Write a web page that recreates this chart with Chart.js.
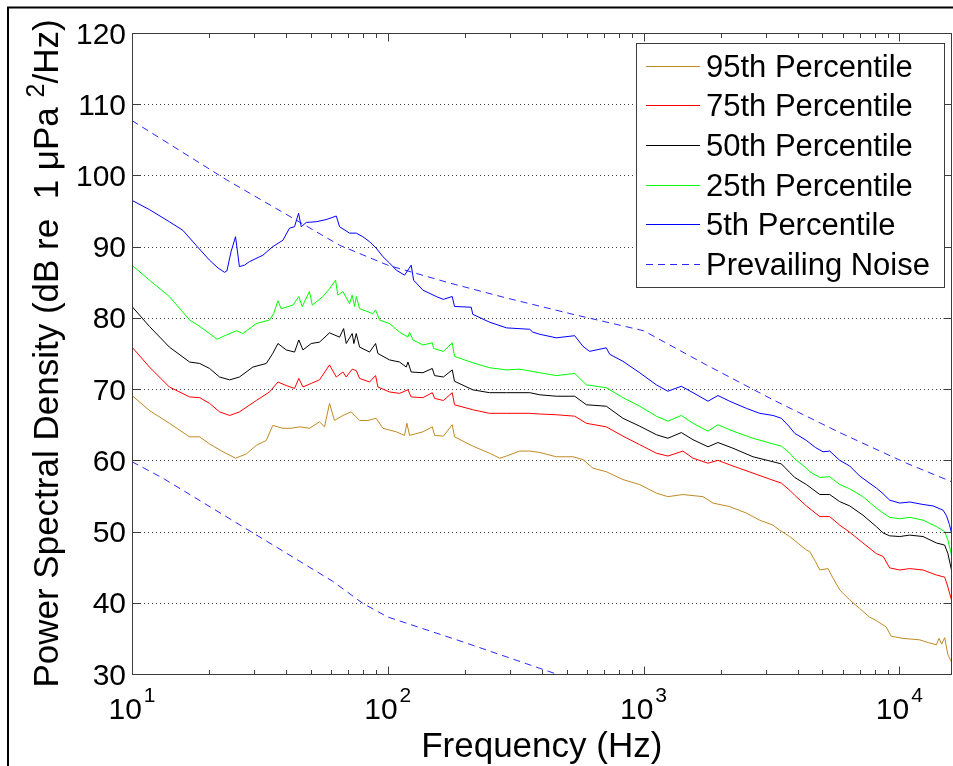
<!DOCTYPE html>
<html>
<head>
<meta charset="utf-8">
<script src="https://cdn.jsdelivr.net/npm/chart.js@4.4.1/dist/chart.umd.min.js"></script>
<style>
html,body{margin:0;padding:0;background:#fff;}
canvas{display:block;}
</style>
</head>
<body>
<canvas id="c" width="953" height="766"></canvas>
<script>
// ---------------- data ----------------
const seriesLabels = ['95th Percentile', '75th Percentile', '50th Percentile', '25th Percentile', '5th Percentile', 'Prevailing Noise'];

const freq95 = [10.0, 11.7, 14.0, 16.8, 18.4, 20.1, 22.7, 25.4, 28.0, 30.6, 33.5, 35.5, 38.9, 41.9, 45.2, 49.4, 54.1, 56.6, 59.2, 61.9, 66.8, 71.9, 77.6, 83.6, 90.1, 95.7, 108.0, 116.3, 118.8, 121.7, 137.2, 149.3, 152.4, 165, 178.7, 182.4, 215, 250, 274, 291, 328, 359, 393, 456, 530, 580, 634, 715, 831, 966, 1122, 1245, 1426, 1708, 1869, 2172, 2523, 2845, 3208, 3405, 3729, 4333, 4465, 4700, 4890, 5265, 5500, 5850, 6400, 7000, 7640, 8130, 8890, 9300, 10340, 12000, 13000, 13960, 14300, 14650, 15050, 15490, 16000];
const db95 = [69.1, 67.0, 65.2, 63.3, 63.3, 62.3, 61.2, 60.3, 60.9, 62.1, 62.8, 64.9, 64.5, 64.5, 64.7, 64.5, 65.4, 64.7, 68.0, 65.6, 66.3, 66.8, 65.6, 65.6, 65.9, 64.5, 64.0, 63.5, 65.2, 63.5, 64.0, 64.7, 63.5, 63.4, 65.0, 63.3, 62.0, 61.0, 60.3, 60.6, 61.3, 61.3, 61.1, 60.5, 60.5, 60.1, 58.9, 58.4, 57.3, 56.6, 55.4, 54.9, 55.2, 54.9, 54.0, 53.5, 52.6, 51.6, 50.9, 50.2, 49.3, 47.4, 47.2, 45.8, 44.6, 44.8, 43.5, 41.8, 40.4, 39.2, 38.0, 37.5, 36.6, 35.3, 35.0, 34.8, 34.4, 34.1, 35.0, 34.2, 35.1, 32.7, 31.7];

const freq75 = [10.0, 11.7, 14.0, 16.8, 18.4, 20.1, 22.0, 24.1, 26.3, 30.6, 34.5, 37.2, 40.1, 43.2, 44.9, 46.6, 50.2, 54.1, 59.2, 62.9, 66.8, 68.8, 72.6, 75.3, 77.6, 84.9, 89.6, 91.5, 101.6, 111.2, 119.9, 123.5, 137.2, 149.3, 152.4, 165, 178.7, 182.4, 215, 250, 291, 359, 393, 456, 538, 598, 715, 831, 966, 1122, 1245, 1426, 1561, 1787, 1954, 2237, 2679, 3208, 3459, 3729, 3900, 4333, 4890, 5345, 5850, 6400, 7210, 8130, 8650, 9170, 10040, 10980, 12380, 13960, 15050, 15490, 16000];
const db75 = [75.9, 73.1, 70.3, 68.9, 68.8, 68.0, 66.8, 66.3, 66.8, 68.4, 69.6, 71.0, 70.5, 70.1, 71.5, 70.3, 70.8, 71.3, 73.4, 71.7, 72.4, 71.7, 72.8, 72.6, 71.5, 71.0, 71.9, 70.3, 69.6, 69.4, 69.9, 68.9, 68.8, 69.5, 68.7, 68.4, 69.5, 67.8, 67.1, 66.6, 66.6, 66.6, 66.5, 66.4, 66.2, 65.2, 64.7, 63.4, 62.2, 61.0, 60.6, 61.3, 60.3, 59.6, 60.0, 59.2, 58.2, 57.2, 56.8, 55.8, 55.1, 53.6, 52.1, 52.1, 50.9, 49.9, 48.4, 46.9, 46.5, 44.9, 44.6, 44.8, 44.6, 43.9, 43.6, 42.2, 40.4];

const freq50 = [10.0, 11.7, 14.0, 16.8, 18.4, 20.1, 22.0, 24.1, 26.3, 29.7, 33.5, 35.5, 37.2, 40.1, 43.2, 44.9, 46.6, 50.2, 54.1, 59.2, 64.8, 67.2, 68.8, 72.6, 73.7, 75.3, 77.6, 84.9, 89.6, 91.5, 101.6, 111.2, 118.1, 119.9, 123.5, 137.2, 149.3, 152.4, 165, 178.7, 182.4, 215, 250, 291, 359, 393, 456, 538, 598, 715, 831, 966, 1122, 1245, 1405, 1561, 1787, 1954, 2237, 2679, 3208, 3459, 3729, 3900, 4333, 4890, 5345, 5850, 6400, 7210, 8130, 8650, 9170, 10040, 10980, 12380, 13960, 15050, 15490, 16000];
const db50 = [81.6, 78.8, 75.9, 73.8, 73.6, 72.9, 71.7, 71.3, 71.7, 73.1, 73.6, 75.0, 76.4, 75.5, 75.2, 76.9, 75.5, 76.4, 76.6, 77.9, 77.3, 78.5, 76.4, 77.8, 76.4, 77.8, 75.9, 75.2, 76.4, 75.0, 74.1, 73.8, 73.1, 73.8, 72.4, 72.3, 72.9, 71.9, 71.7, 72.7, 71.1, 69.9, 69.5, 69.5, 69.5, 69.2, 69.0, 69.0, 67.8, 67.6, 65.9, 64.8, 63.6, 63.1, 63.9, 62.9, 61.9, 62.5, 61.7, 60.5, 59.8, 59.5, 58.3, 57.6, 56.6, 55.2, 55.2, 54.2, 53.6, 52.3, 50.7, 49.8, 49.4, 49.3, 49.5, 49.3, 48.4, 48.1, 46.9, 44.6];

const freq25 = [10.0, 11.7, 14.0, 16.8, 18.4, 20.1, 21.5, 23.4, 25.6, 27.1, 30.6, 34.5, 35.8, 37.2, 38.3, 42.6, 44.9, 46.3, 49.4, 50.7, 55.8, 59.2, 62.5, 63.8, 66.8, 70.9, 72.6, 74.2, 75.3, 77.6, 87.4, 89.6, 92.9, 101.6, 111.2, 119.9, 121.7, 125.4, 137.2, 149.3, 151.1, 165, 178.7, 182.4, 215, 250, 291, 328, 393, 456, 538, 598, 715, 831, 966, 1122, 1245, 1405, 1561, 1787, 1954, 2237, 2679, 3208, 3459, 3729, 3900, 4333, 4465, 4890, 5345, 5850, 6400, 7210, 8130, 8650, 9170, 10040, 10980, 12380, 13960, 15050, 15490, 16000];
const db25 = [87.4, 85.3, 83.0, 79.7, 78.8, 77.8, 77.0, 77.6, 78.2, 77.8, 79.2, 79.7, 80.6, 82.4, 81.3, 81.8, 83.0, 81.6, 83.7, 81.8, 83.0, 84.1, 85.3, 83.2, 83.7, 82.0, 83.2, 81.6, 83.0, 81.3, 80.6, 81.1, 79.7, 79.2, 78.0, 77.3, 78.0, 76.9, 76.2, 76.5, 75.7, 75.3, 76.5, 74.6, 73.7, 73.0, 72.7, 72.8, 72.3, 71.9, 72.2, 70.6, 70.2, 68.8, 67.6, 66.2, 65.5, 66.3, 65.2, 64.1, 65.0, 64.1, 63.1, 62.3, 62.0, 61.0, 60.2, 58.9, 58.4, 57.6, 57.7, 56.6, 56.0, 54.9, 53.3, 52.6, 52.0, 51.8, 52.0, 51.6, 50.7, 50.0, 48.8, 46.7];

const freq05 = [10.0, 11.7, 14.0, 15.8, 17.8, 20.1, 21.7, 23.0, 23.5, 24.4, 25.4, 26.3, 27.5, 28.8, 32.5, 35.5, 38.9, 41.3, 43.2, 44.8, 45.9, 48.0, 52.5, 57.4, 62.9, 64.8, 70.9, 75.3, 79.9, 84.9, 90.1, 95.7, 101.6, 108.0, 116.3, 123.5, 126.2, 137.2, 154.7, 165, 178.7, 182.4, 212, 215, 250, 291, 359, 369, 393, 456, 538, 580, 615, 715, 737, 831, 966, 1122, 1245, 1405, 1561, 1787, 1954, 2172, 2523, 2845, 3208, 3459, 3700, 3900, 4333, 4700, 5035, 5345, 5850, 6400, 7000, 8140, 8650, 9175, 10040, 11000, 12380, 13550, 14830, 15300, 15700, 16000];
const db05 = [96.5, 95.2, 93.5, 92.3, 90.2, 88.1, 87.0, 86.4, 86.6, 89.3, 91.4, 87.2, 87.4, 87.9, 88.8, 90.0, 90.9, 92.6, 92.8, 94.7, 92.8, 93.4, 93.5, 93.8, 94.3, 92.8, 91.9, 91.9, 91.4, 90.7, 89.8, 88.6, 87.7, 86.7, 86.0, 87.4, 85.3, 83.9, 83.0, 82.6, 83.0, 81.6, 81.5, 80.5, 79.4, 78.6, 78.4, 78.0, 77.7, 77.2, 77.5, 76.0, 75.3, 75.8, 74.9, 73.9, 72.3, 70.6, 69.7, 70.4, 69.5, 68.3, 69.1, 68.3, 67.3, 66.6, 66.3, 65.9, 64.8, 63.8, 62.8, 61.8, 61.2, 61.3, 60.0, 59.2, 57.8, 56.1, 55.3, 54.4, 54.0, 54.15, 53.8, 53.6, 53.0, 52.2, 51.0, 49.8];

const noiseHighFreq = [10, 23.4, 64.8, 100, 174.5, 290.7, 530, 1000, 1760, 3208, 5847, 10660, 16000];
const noiseHighDb = [107.7, 99.4, 90.2, 87.4, 84.9, 82.8, 80.5, 78.2, 73.4, 68.5, 63.9, 59.6, 57.0];
const noiseLowFreq = [10, 13.2, 61, 80, 100, 197, 456];
const noiseLowDb = [59.8, 57.5, 43.0, 39.9, 38.0, 34.5, 30.0];

const yTickValues = [30, 40, 50, 60, 70, 80, 90, 100, 110, 120];
const xTickDecades = [10, 100, 1000, 10000];
const xTickExponents = ['1', '2', '3', '4'];
const xAxisTitle = 'Frequency (Hz)';
const yAxisTitleParts = ['Power Spectral Density (dB re  1 ', '\u03bc', 'Pa ', '2', '/Hz)'];

// ---------------- chart ----------------
const FONT = "'Liberation Sans', Arial, Helvetica, sans-serif";
const colors = ['#C08A24', '#FF0000', '#000000', '#00FF00', '#0000FF', '#2828FF'];
const toXY = (fs, ds) => fs.map((f, i) => ({x: f, y: ds[i]}));

const lineDs = (label, fs, ds, color, extra) => Object.assign({
  label, data: toXY(fs, ds), borderColor: color, backgroundColor: color,
  borderWidth: 1, pointRadius: 0, tension: 0, fill: false
}, extra || {});

const datasets = [
  lineDs(seriesLabels[0], freq95, db95, colors[0]),
  lineDs(seriesLabels[1], freq75, db75, colors[1]),
  lineDs(seriesLabels[2], freq50, db50, colors[2]),
  lineDs(seriesLabels[3], freq25, db25, colors[3]),
  lineDs(seriesLabels[4], freq05, db05, colors[4]),
  lineDs(seriesLabels[5], noiseHighFreq, noiseHighDb, colors[5], {borderDash: [7, 5]}),
  lineDs('', noiseLowFreq, noiseLowDb, colors[5], {borderDash: [7, 5], hideInLegend: true})
];

const axisColor = '#3c3c3c';

const matlabPlugin = {
  id: 'matlabLook',
  beforeDraw(chart) {
    const ctx = chart.ctx;
    ctx.save();
    ctx.fillStyle = '#ffffff';
    ctx.fillRect(0, 0, chart.width, chart.height);
    ctx.strokeStyle = '#000';
    ctx.lineWidth = 2;
    ctx.beginPath();
    ctx.moveTo(8, chart.height + 10);
    ctx.lineTo(8, 7.5);
    ctx.lineTo(chart.width + 10, 7.5);
    ctx.stroke();
    ctx.restore();
  },
  beforeDatasetsDraw(chart) {
    const {ctx, chartArea: a, scales: {y}} = chart;
    ctx.save();
    ctx.strokeStyle = '#404040';
    ctx.lineWidth = 1;
    ctx.setLineDash([1, 3]);
    yTickValues.forEach(v => {
      if (v <= y.min || v >= y.max) return;
      const py = Math.round(y.getPixelForValue(v)) + 0.5;
      ctx.beginPath();
      ctx.moveTo(a.left, py);
      ctx.lineTo(a.right, py);
      ctx.stroke();
    });
    ctx.restore();
  },
  afterDatasetsDraw(chart) {
    const {ctx, chartArea: a, scales: {x, y}} = chart;
    const L = a.left + 0.5, R = Math.round(a.right) - 0.5, T = a.top + 0.5, B = a.bottom + 0.5;
    ctx.save();
    ctx.setLineDash([]);
    ctx.strokeStyle = axisColor;
    ctx.lineWidth = 1;
    ctx.strokeRect(L, T, R - L, B - T);

    // y ticks (inside, both sides)
    ctx.beginPath();
    yTickValues.forEach(v => {
      const py = Math.round(y.getPixelForValue(v)) + 0.5;
      ctx.moveTo(L, py); ctx.lineTo(L + 8, py);
      ctx.moveTo(R, py); ctx.lineTo(R - 8, py);
    });
    // x ticks (major + minor, inside, top and bottom)
    xTickDecades.forEach(d => {
      for (let k = 1; k <= 9; k++) {
        const v = d * k;
        if (v < x.min || v > x.max) continue;
        const px = Math.round(x.getPixelForValue(v)) + 0.5;
        const len = k === 1 ? 8 : 4.5;
        ctx.moveTo(px, B); ctx.lineTo(px, B - len);
        ctx.moveTo(px, T); ctx.lineTo(px, T + len);
      }
    });
    ctx.stroke();

    // y tick labels
    ctx.fillStyle = '#000';
    ctx.font = '30px ' + FONT;
    ctx.textAlign = 'right';
    ctx.textBaseline = 'alphabetic';
    yTickValues.forEach(v => {
      const py = y.getPixelForValue(v);
      ctx.fillText(String(v), 126, py + 10.5);
    });

    // x tick labels: 10 with superscript exponent
    xTickDecades.forEach((d, i) => {
      const px = x.getPixelForValue(d);
      ctx.font = '30px ' + FONT;
      const wBase = ctx.measureText('10').width;
      ctx.font = '21px ' + FONT;
      const wExp = ctx.measureText(xTickExponents[i]).width;
      const total = wBase + 2 + wExp;
      const x0 = px - total / 2;
      ctx.textAlign = 'left';
      ctx.font = '30px ' + FONT;
      ctx.fillText('10', x0, 719);
      ctx.font = '21px ' + FONT;
      ctx.fillText(xTickExponents[i], x0 + wBase + 2, 702);
    });

    // x axis title
    ctx.font = '35px ' + FONT;
    ctx.textAlign = 'center';
    ctx.fillText(xAxisTitle, (a.left + a.right) / 2, 757);

    // y axis title (rotated, with superscript 2)
    ctx.save();
    ctx.translate(58, (a.top + a.bottom) / 2);
    ctx.rotate(-Math.PI / 2);
    ctx.textAlign = 'left';
    const main = '35px ' + FONT, sup = '25px ' + FONT;
    const parts = yAxisTitleParts.map((t, i) => ({t, sup: i === 3}));
    let tot = 0;
    parts.forEach(p => { ctx.font = p.sup ? sup : main; p.w = ctx.measureText(p.t).width; tot += p.w; });
    let cx = -tot / 2;
    parts.forEach(p => {
      ctx.font = p.sup ? sup : main;
      ctx.fillText(p.t, cx, p.sup ? -14 : 0);
      cx += p.w;
    });
    ctx.restore();

    // legend
    const lg = {left: 636, top: 43, right: 944, bottom: 287};
    ctx.fillStyle = '#fff';
    ctx.fillRect(lg.left, lg.top, lg.right - lg.left, lg.bottom - lg.top);
    ctx.strokeStyle = axisColor;
    ctx.lineWidth = 1;
    ctx.strokeRect(lg.left + 0.5, lg.top + 0.5, lg.right - lg.left, lg.bottom - lg.top);
    const rows = chart.data.datasets.filter(ds => !ds.hideInLegend);
    ctx.font = '31px ' + FONT;
    ctx.textAlign = 'left';
    rows.forEach((ds, i) => {
      const cy = 65.5 + i * 39.7;
      ctx.strokeStyle = ds.borderColor;
      ctx.lineWidth = 1;
      ctx.setLineDash(ds.borderDash || []);
      ctx.beginPath();
      ctx.moveTo(646, Math.round(cy) + 0.5);
      ctx.lineTo(700, Math.round(cy) + 0.5);
      ctx.stroke();
      ctx.setLineDash([]);
      ctx.fillStyle = '#000';
      ctx.fillText(ds.label, 706, cy + 11);
    });
    ctx.restore();
  }
};

new Chart(document.getElementById('c'), {
  type: 'line',
  data: {datasets},
  options: {
    responsive: false,
    animation: false,
    devicePixelRatio: 1,
    layout: {padding: {left: 0, top: 33, right: 1.5, bottom: 0}},
    plugins: {legend: {display: false}, tooltip: {enabled: false}},
    elements: {point: {radius: 0}, line: {tension: 0}},
    scales: {
      x: {
        type: 'logarithmic', min: 10, max: 16000,
        grid: {display: false}, border: {display: false},
        ticks: {display: false},
        afterFit: s => { s.height = 92; }
      },
      y: {
        type: 'linear', min: 30, max: 120,
        grid: {display: false}, border: {display: false},
        ticks: {display: false, stepSize: 10},
        afterFit: s => { s.width = 132; }
      }
    }
  },
  plugins: [matlabPlugin]
});
</script>
</body>
</html>
